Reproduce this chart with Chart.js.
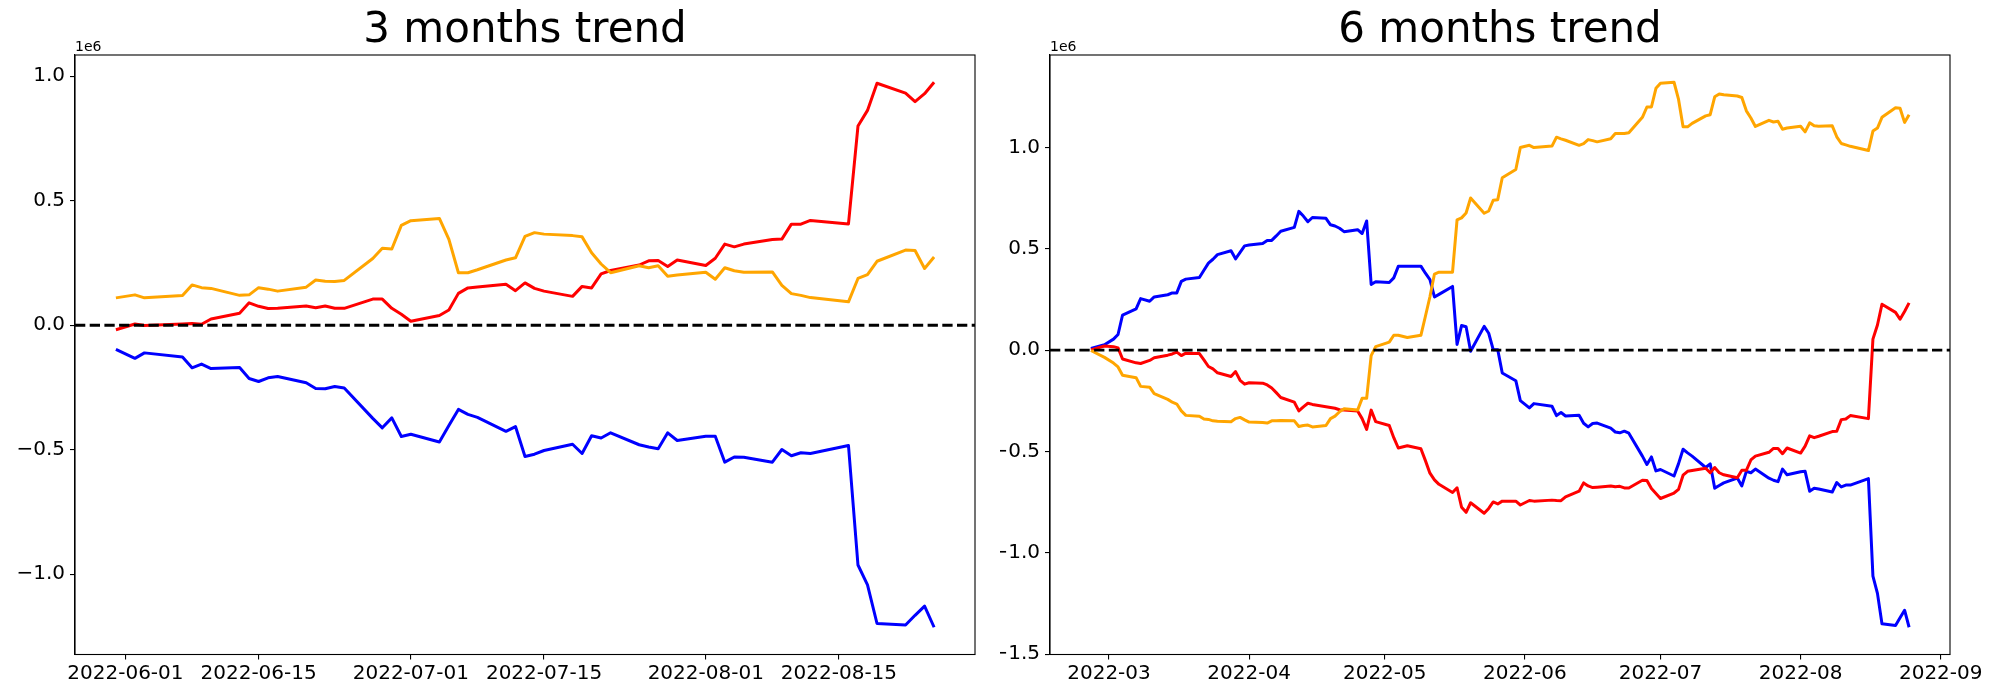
<!DOCTYPE html>
<html>
<head>
<meta charset="utf-8">
<script src="https://cdn.jsdelivr.net/npm/chart.js@4.4.1/dist/chart.umd.min.js"></script>
<style>
  html, body { margin: 0; padding: 0; background: #fff; }
  #wrap { position: relative; width: 2000px; height: 700px; }
  .box { position: absolute; top: 0; width: 1000px; height: 700px; }
</style>
</head>
<body>
<div id="wrap">
  <div class="box" style="left:0"><canvas id="chart3m"></canvas></div>
  <div class="box" style="left:1000px"><canvas id="chart6m"></canvas></div>
</div>
<script>
// ====== 3 months (values in 1e6 units) ======
const DATES_3M = [
  '2022-05-31',
  '2022-06-02','2022-06-03','2022-06-07','2022-06-08','2022-06-09','2022-06-10','2022-06-13','2022-06-14','2022-06-15','2022-06-16',
  '2022-06-17','2022-06-20','2022-06-21','2022-06-22','2022-06-23','2022-06-24','2022-06-27','2022-06-28','2022-06-29','2022-06-30',
  '2022-07-01','2022-07-04','2022-07-05','2022-07-06','2022-07-07','2022-07-08','2022-07-11','2022-07-12','2022-07-13','2022-07-14',
  '2022-07-15','2022-07-18','2022-07-19','2022-07-20','2022-07-21','2022-07-22','2022-07-25','2022-07-26','2022-07-27','2022-07-28','2022-07-29',
  '2022-08-01','2022-08-02','2022-08-03','2022-08-04','2022-08-05','2022-08-08','2022-08-09','2022-08-10','2022-08-11','2022-08-12',
  '2022-08-16','2022-08-17','2022-08-18','2022-08-19','2022-08-22','2022-08-23','2022-08-24','2022-08-25'
];
const BLUE_3M = [
  -0.097,
  -0.133,-0.111,-0.128,-0.171,-0.156,-0.174,-0.170,-0.214,-0.226,-0.211,
  -0.206,-0.231,-0.254,-0.255,-0.246,-0.252,-0.374,-0.412,-0.372,-0.447,
  -0.438,-0.469,-0.403,-0.338,-0.358,-0.370,-0.426,-0.407,-0.527,-0.518,
  -0.503,-0.478,-0.515,-0.444,-0.453,-0.432,-0.480,-0.489,-0.496,-0.432,-0.463,
  -0.446,-0.446,-0.550,-0.529,-0.530,-0.550,-0.499,-0.524,-0.512,-0.515,
  -0.483,-0.963,-1.043,-1.198,-1.204,-1.165,-1.128,-1.213
];
const RED_3M = [
  -0.018,
  0.005,-0.001,0.005,0.007,0.004,0.025,0.048,0.090,0.076,0.067,
  0.068,0.077,0.070,0.077,0.068,0.068,0.105,0.105,0.068,0.044,
  0.016,0.039,0.061,0.128,0.150,0.154,0.165,0.139,0.170,0.148,
  0.137,0.116,0.156,0.150,0.206,0.220,0.242,0.259,0.260,0.236,0.262,
  0.240,0.269,0.326,0.315,0.326,0.344,0.346,0.406,0.406,0.421,
  0.407,0.800,0.863,0.972,0.932,0.898,0.930,0.976
];
const ORANGE_3M = [
  0.110,
  0.122,0.110,0.119,0.162,0.151,0.148,0.120,0.122,0.151,0.145,
  0.137,0.153,0.182,0.177,0.176,0.180,0.268,0.309,0.306,0.401,
  0.420,0.429,0.345,0.211,0.211,0.223,0.262,0.271,0.357,0.372,
  0.366,0.360,0.355,0.291,0.246,0.211,0.239,0.231,0.239,0.197,0.202,
  0.213,0.185,0.231,0.219,0.213,0.214,0.160,0.127,0.120,0.111,
  0.094,0.188,0.203,0.257,0.302,0.300,0.228,0.274
];
const XTICKS_3M = ['2022-06-01','2022-06-15','2022-07-01','2022-07-15','2022-08-01','2022-08-15'];
const XLABELS_3M = ['2022-06-01','2022-06-15','2022-07-01','2022-07-15','2022-08-01','2022-08-15'];
const YTICKS_3M = [-1.0, -0.5, 0.0, 0.5, 1.0];

// ====== 6 months (values in 1e6 units) ======
const DATES_6M = [
  '2022-02-25','2022-02-28',
  '2022-03-02','2022-03-03','2022-03-04','2022-03-07','2022-03-08','2022-03-10','2022-03-11','2022-03-14','2022-03-15','2022-03-16',
  '2022-03-17','2022-03-18','2022-03-21','2022-03-22','2022-03-23','2022-03-24','2022-03-25','2022-03-28','2022-03-29','2022-03-30','2022-03-31',
  '2022-04-01','2022-04-04','2022-04-05','2022-04-06','2022-04-07','2022-04-08','2022-04-11','2022-04-12','2022-04-13','2022-04-14','2022-04-15',
  '2022-04-18','2022-04-19','2022-04-20','2022-04-21','2022-04-22','2022-04-25','2022-04-26','2022-04-27','2022-04-28','2022-04-29',
  '2022-05-02','2022-05-03','2022-05-04','2022-05-06','2022-05-09','2022-05-10','2022-05-11','2022-05-12','2022-05-13','2022-05-16','2022-05-17',
  '2022-05-18','2022-05-19','2022-05-20','2022-05-23','2022-05-24','2022-05-25','2022-05-26','2022-05-27','2022-05-30','2022-05-31',
  '2022-06-02','2022-06-03','2022-06-07','2022-06-08','2022-06-09','2022-06-10','2022-06-13','2022-06-14','2022-06-15','2022-06-16',
  '2022-06-17','2022-06-20','2022-06-21','2022-06-22','2022-06-23','2022-06-24','2022-06-27','2022-06-28','2022-06-29','2022-06-30',
  '2022-07-01','2022-07-04','2022-07-05','2022-07-06','2022-07-07','2022-07-08','2022-07-11','2022-07-12','2022-07-13','2022-07-14','2022-07-15',
  '2022-07-18','2022-07-19','2022-07-20','2022-07-21','2022-07-22','2022-07-25','2022-07-26','2022-07-27','2022-07-28','2022-07-29',
  '2022-08-01','2022-08-02','2022-08-03','2022-08-04','2022-08-05','2022-08-08','2022-08-09','2022-08-10','2022-08-11','2022-08-12',
  '2022-08-16','2022-08-17','2022-08-18','2022-08-19','2022-08-22','2022-08-23','2022-08-24','2022-08-25'
];
const BLUE_6M = [
  0.008,0.026,
  0.054,0.077,0.173,0.203,0.254,0.241,0.262,0.273,0.282,0.282,
  0.339,0.350,0.358,0.394,0.429,0.448,0.471,0.490,0.450,0.482,0.514,
  0.518,0.526,0.541,0.541,0.563,0.586,0.605,0.684,0.661,0.633,0.654,
  0.650,0.618,0.612,0.601,0.584,0.594,0.575,0.637,0.324,0.337,
  0.333,0.356,0.413,0.413,0.414,0.379,0.348,0.262,0.275,0.314,0.028,
  0.121,0.115,-0.006,0.117,0.083,0.002,0.002,-0.113,-0.151,-0.249,
  -0.285,-0.264,-0.277,-0.323,-0.308,-0.325,-0.321,-0.361,-0.379,-0.362,
  -0.360,-0.385,-0.404,-0.408,-0.400,-0.410,-0.523,-0.564,-0.527,-0.596,
  -0.589,-0.621,-0.560,-0.489,-0.507,-0.523,-0.579,-0.561,-0.681,-0.668,-0.655,
  -0.631,-0.670,-0.598,-0.605,-0.587,-0.632,-0.642,-0.649,-0.587,-0.615,
  -0.600,-0.598,-0.696,-0.681,-0.685,-0.700,-0.653,-0.675,-0.666,-0.666,
  -0.634,-1.115,-1.200,-1.350,-1.358,-1.320,-1.283,-1.367
];
const RED_6M = [
  0.001,0.020,
  0.017,0.011,-0.044,-0.063,-0.066,-0.051,-0.038,-0.025,-0.019,-0.010,
  -0.027,-0.015,-0.017,-0.048,-0.081,-0.093,-0.112,-0.130,-0.106,-0.149,-0.168,
  -0.161,-0.163,-0.172,-0.187,-0.210,-0.234,-0.257,-0.300,-0.280,-0.262,-0.268,
  -0.279,-0.283,-0.287,-0.294,-0.296,-0.300,-0.338,-0.391,-0.296,-0.353,
  -0.372,-0.432,-0.483,-0.472,-0.487,-0.545,-0.607,-0.640,-0.662,-0.702,-0.679,
  -0.775,-0.800,-0.753,-0.805,-0.781,-0.749,-0.759,-0.745,-0.745,-0.764,
  -0.742,-0.745,-0.740,-0.742,-0.743,-0.724,-0.696,-0.655,-0.670,-0.678,
  -0.676,-0.670,-0.674,-0.672,-0.680,-0.680,-0.642,-0.643,-0.683,-0.707,
  -0.732,-0.705,-0.687,-0.617,-0.598,-0.594,-0.583,-0.605,-0.579,-0.605,-0.615,
  -0.630,-0.593,-0.593,-0.542,-0.523,-0.504,-0.485,-0.485,-0.511,-0.483,
  -0.508,-0.474,-0.423,-0.432,-0.425,-0.402,-0.400,-0.343,-0.340,-0.323,
  -0.338,0.054,0.124,0.226,0.186,0.152,0.190,0.233
];
const ORANGE_6M = [
  -0.002,-0.036,
  -0.064,-0.083,-0.124,-0.136,-0.179,-0.183,-0.215,-0.243,-0.257,-0.266,
  -0.300,-0.322,-0.326,-0.340,-0.342,-0.349,-0.351,-0.353,-0.338,-0.332,-0.344,
  -0.355,-0.357,-0.360,-0.349,-0.349,-0.347,-0.349,-0.377,-0.372,-0.370,-0.379,
  -0.372,-0.338,-0.326,-0.304,-0.289,-0.296,-0.238,-0.238,-0.027,0.017,
  0.039,0.073,0.073,0.062,0.073,0.167,0.263,0.375,0.384,0.384,0.642,
  0.652,0.676,0.750,0.675,0.686,0.739,0.742,0.850,0.891,0.999,
  1.010,0.999,1.006,1.050,1.042,1.035,1.010,1.018,1.038,1.033,
  1.027,1.042,1.068,1.068,1.068,1.072,1.148,1.199,1.199,1.291,
  1.316,1.321,1.236,1.101,1.101,1.118,1.155,1.161,1.249,1.263,1.259,
  1.253,1.246,1.180,1.145,1.103,1.133,1.125,1.129,1.089,1.095,
  1.104,1.076,1.121,1.106,1.104,1.106,1.052,1.019,1.012,1.005,
  0.984,1.080,1.095,1.148,1.195,1.193,1.123,1.161
];
const XTICKS_6M = ['2022-03-01','2022-04-01','2022-05-01','2022-06-01','2022-07-01','2022-08-01','2022-09-01'];
const XLABELS_6M = ['2022-03','2022-04','2022-05','2022-06','2022-07','2022-08','2022-09'];
const YTICKS_6M = [-1.5, -1.0, -0.5, 0.0, 0.5, 1.0];

const FONT = 'DejaVu Sans';

// ====== helpers ======
function ts(s) {
  const p = s.split('-').map(Number);
  return Date.UTC(p[0], p[1] - 1, p[2]);
}

// matplotlib style 5% margins
function withMargin(lo, hi) {
  const m = (hi - lo) * 0.05;
  return [lo - m, hi + m];
}

function fmtY(v) {
  return Number(v).toFixed(1).replace('-', '\u2212');
}

// frame on all four sides + "1e6" offset text
const framePlugin = {
  id: 'frame',
  afterDraw(chart) {
    const { ctx, chartArea: a } = chart;
    ctx.save();
    ctx.strokeStyle = '#000';
    ctx.lineWidth = 1.1;
    ctx.strokeRect(a.left, a.top, a.right - a.left, a.bottom - a.top);
    ctx.fillStyle = '#000';
    ctx.font = '14px "' + FONT + '"';
    ctx.textAlign = 'left';
    ctx.textBaseline = 'alphabetic';
    ctx.fillText('1e6', a.left, a.top - 4);
    ctx.restore();
  }
};

function makeChart(canvasId, title, dates, blue, red, orange, xTicks, xLabels, yTicks, yWidth, padRight) {
  const xs = dates.map(ts);
  const [xMin, xMax] = withMargin(Math.min(...xs), Math.max(...xs));
  const all = blue.concat(red, orange);
  const [yMin, yMax] = withMargin(Math.min(...all), Math.max(...all));

  const pts = vals => vals.map((v, i) => ({ x: xs[i], y: v }));
  const line = (data, color, order) => ({
    data, borderColor: color, borderWidth: 3, pointRadius: 0,
    tension: 0, fill: false, borderJoinStyle: 'round', order
  });

  const tickLabel = {};
  xTicks.forEach((d, i) => { tickLabel[ts(d)] = xLabels[i]; });

  return new Chart(document.getElementById(canvasId), {
    type: 'line',
    data: {
      datasets: [
        line(pts(blue), '#0000ff', 4),
        line(pts(red), '#ff0000', 3),
        line(pts(orange), '#ffa500', 2),
        {
          data: [{ x: xMin, y: 0 }, { x: xMax, y: 0 }],
          borderColor: '#000', borderWidth: 2.8, borderDash: [10.3, 4.4],
          pointRadius: 0, fill: false, order: 1
        }
      ]
    },
    options: {
      responsive: true,
      maintainAspectRatio: false,
      devicePixelRatio: 1,
      animation: false,
      parsing: false,
      layout: { padding: { left: 0, right: padRight, top: 0, bottom: 0 } },
      scales: {
        x: {
          type: 'linear',
          min: xMin,
          max: xMax,
          afterBuildTicks: s => { s.ticks = xTicks.map(d => ({ value: ts(d) })); },
          afterFit: s => { s.height = 45.5; s.paddingLeft = 0; s.paddingRight = 0; },
          ticks: {
            autoSkip: false, maxRotation: 0, padding: 2,
            color: '#000', font: { family: FONT, size: 20 },
            callback: v => tickLabel[v] || ''
          },
          grid: { drawOnChartArea: false, drawTicks: true, tickLength: 5, color: '#000', lineWidth: 1.1 },
          border: { display: true, color: '#000', width: 1.1 }
        },
        y: {
          min: yMin,
          max: yMax,
          afterBuildTicks: s => { s.ticks = yTicks.map(v => ({ value: v })); },
          afterFit: s => { s.width = yWidth; s.paddingTop = 0; s.paddingBottom = 0; },
          ticks: {
            padding: 5, color: '#000', font: { family: FONT, size: 20 },
            callback: v => fmtY(v)
          },
          grid: { drawOnChartArea: false, drawTicks: true, tickLength: 5, color: '#000', lineWidth: 1.1 },
          border: { display: true, color: '#000', width: 1.1 }
        }
      },
      plugins: {
        legend: { display: false },
        tooltip: { enabled: false },
        title: {
          display: true,
          text: title,
          fullSize: false,
          color: '#000',
          font: { family: FONT, size: 42, weight: 'normal', lineHeight: 1.1 },
          padding: { top: 7.9, bottom: 0.9 }
        }
      }
    },
    plugins: [framePlugin]
  });
}

makeChart('chart3m', '3 months trend', DATES_3M, BLUE_3M, RED_3M, ORANGE_3M,
  XTICKS_3M, XLABELS_3M, YTICKS_3M, 75, 25);
makeChart('chart6m', '6 months trend', DATES_6M, BLUE_6M, RED_6M, ORANGE_6M,
  XTICKS_6M, XLABELS_6M, YTICKS_6M, 50, 50);
</script>
</body>
</html>
